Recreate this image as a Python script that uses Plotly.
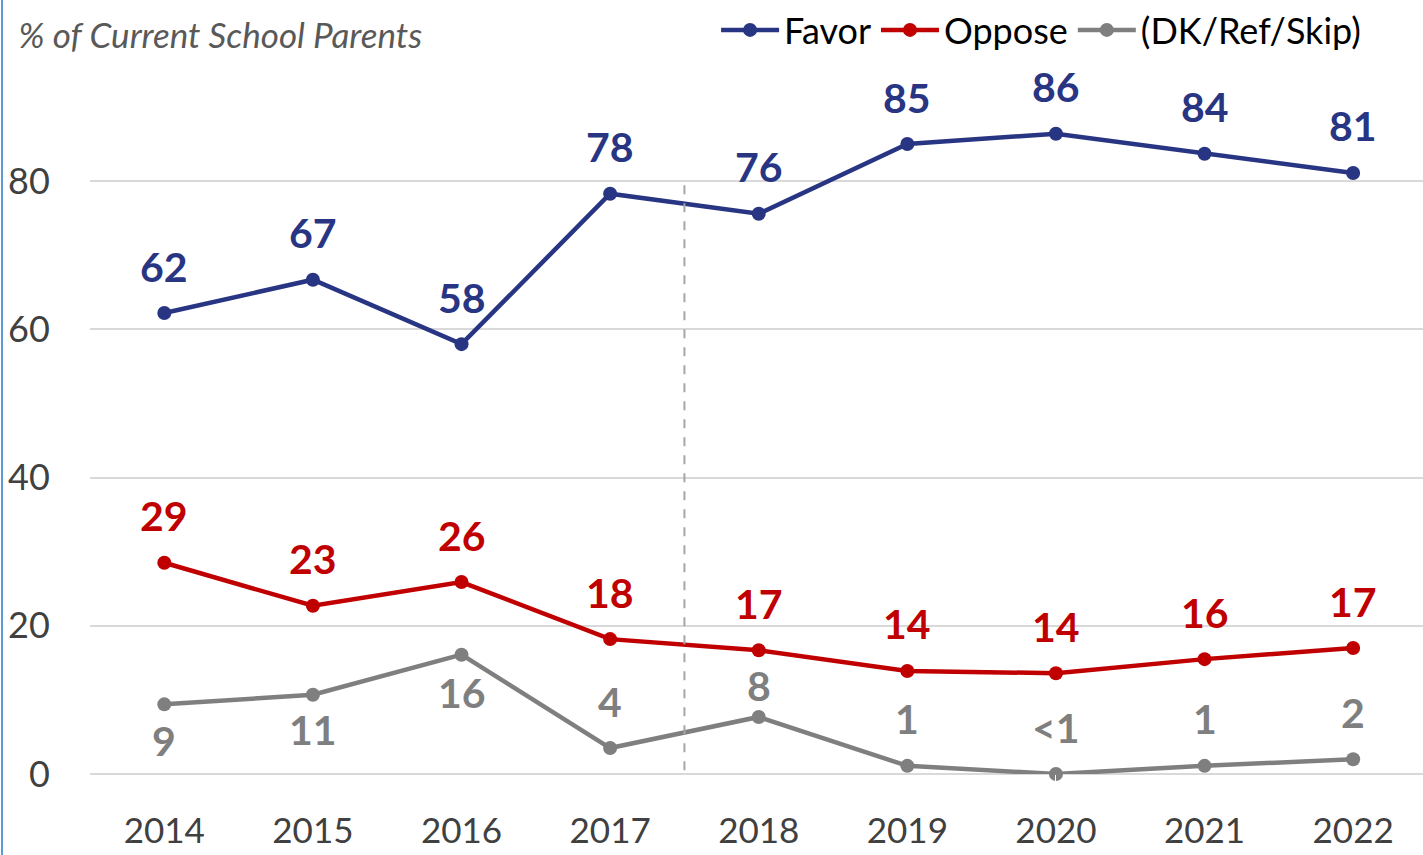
import plotly.graph_objects as go

years = ["2014", "2015", "2016", "2017", "2018", "2019", "2020", "2021", "2022"]
favor = [62.2, 66.7, 58.0, 78.3, 75.6, 85.0, 86.4, 83.7, 81.1]
oppose = [28.5, 22.7, 25.9, 18.2, 16.7, 13.9, 13.6, 15.5, 17.0]
dk = [9.4, 10.7, 16.1, 3.5, 7.7, 1.1, 0.0, 1.1, 2.0]

favor_labels = ["62", "67", "58", "78", "76", "85", "86", "84", "81"]
oppose_labels = ["29", "23", "26", "18", "17", "14", "14", "16", "17"]
dk_labels = ["9", "11", "16", "4", "8", "1", "<1", "1", "2"]

# label offsets in pixels (positive = above the point)
dk_shift = [-36, -35, -38, 47, 31, 47, 47, 47, 47]

BLUE = "#283583"
RED = "#c00000"
GRAY = "#7f7f7f"
FONT = "Lato"

fig = go.Figure()

series = [
    ("Favor", favor, favor_labels, BLUE, [47] * 9),
    ("Oppose", oppose, oppose_labels, RED, [47] * 9),
    ("(DK/Ref/Skip)", dk, dk_labels, GRAY, dk_shift),
]

annotations = []
for name, vals, labels, color, shifts in series:
    fig.add_trace(
        go.Scatter(
            name=name,
            x=list(range(len(years))),
            y=vals,
            mode="lines+markers",
            line=dict(color=color, width=4.5),
            marker=dict(color=color, size=14),
            cliponaxis=False,
        )
    )
    for i, (y, t, s) in enumerate(zip(vals, labels, shifts)):
        annotations.append(dict(
            x=i, y=y, xref="x", yref="y", text=t.replace("<", "&lt;"),
            showarrow=False, yshift=s,
            font=dict(family=FONT, size=41, color=color, weight="bold"),
        ))

# dashed divider between 2017 and 2018
fig.add_shape(
    type="line", xref="x", yref="y", x0=3.5, x1=3.5, y0=0.5, y1=79.5,
    line=dict(color="#a6a6a6", width=2, dash="dash"),
)

# thin blue border on the left edge
fig.add_shape(
    type="line", xref="paper", yref="paper", x0=-0.066, x1=-0.066, y0=-0.13, y1=1.17,
    line=dict(color="#5b9bd5", width=2),
)

fig.update_layout(
    width=1423,
    height=855,
    margin=dict(l=90, r=0, t=107, b=81, autoexpand=False),
    plot_bgcolor="white",
    paper_bgcolor="white",
    font=dict(family=FONT, color="#404040"),
    annotations=annotations,
    title=dict(
        text="<i>% of Current School Parents</i>",
        x=0.013, xanchor="left", y=0.958, yanchor="middle",
        font=dict(family=FONT, size=35, color="#595959"),
    ),
    legend=dict(
        orientation="h", xref="container", yref="container",
        x=0.96, xanchor="right", y=1.0, yanchor="top",
        font=dict(family=FONT, size=36, color="#000000"),
        itemwidth=58,
    ),
    showlegend=True,
)

fig.update_xaxes(
    range=[-0.5, 8.47], tickvals=list(range(len(years))), ticktext=years,
    showgrid=False, showline=False, zeroline=False,
    ticks="outside", ticklen=26, tickcolor="white",
    tickfont=dict(family=FONT, size=35, color="#404040"),
)
fig.update_yaxes(
    range=[0, 90], tickvals=[0, 20, 40, 60, 80],
    showgrid=True, gridcolor="#d9d9d9", gridwidth=2,
    zeroline=True, zerolinecolor="#d9d9d9", zerolinewidth=2,
    ticks="outside", ticklen=32, tickcolor="white",
    tickfont=dict(family=FONT, size=36, color="#404040"),
)

fig.write_html(
    "out.html",
    config={"displayModeBar": False},
    post_script="document.body.style.margin='0';",
)
